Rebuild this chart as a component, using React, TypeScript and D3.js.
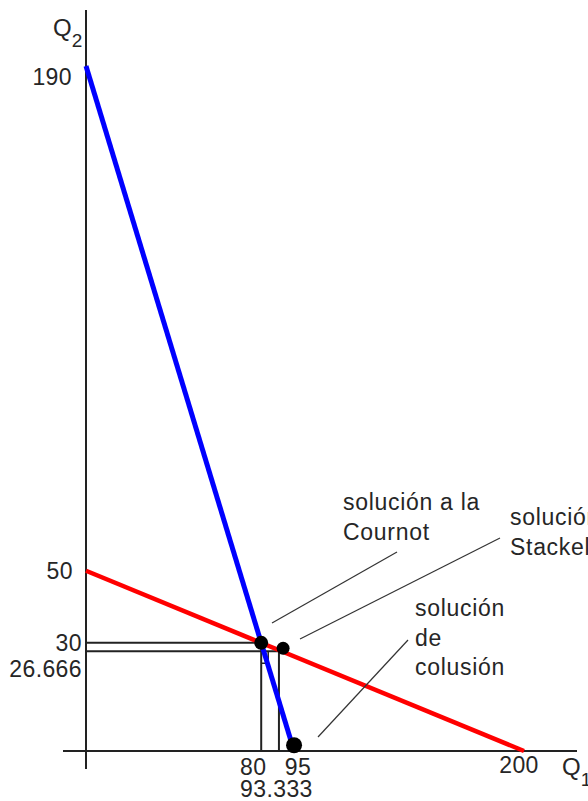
import React from "react";
import * as d3 from "d3";

// Reaction functions (Q1, Q2)
const blueLine: [number, number][] = [[0, 190], [95, 0]];
const redLine: [number, number][] = [[0, 50], [200, 0]];

// Equilibrium points
const cournot = { q1: 80, q2: 30 };
const stackelberg = { q1: 90, q2: 28.5 };
const colusion = { q1: 95, q2: 1.6 };

// Guide lines (drop lines) as drawn
const guideCournot = { q1: 80, q2: 30 };
const guideStack = { q1: 88.1, q2: 27.7 };

// Tick labels
const yTicks = [
  { value: 190, label: "190", dx: -14, dy: 19 },
  { value: 50, label: "50", dx: -13, dy: 8 },
  { value: 30, label: "30", dx: -4, dy: 8 },
  { value: 26.666, label: "26.666", dx: -4, dy: 22 },
];
const xTicks = [
  { value: 80, label: "80", dx: -8, dy: 24 },
  { value: 95, label: "95", dx: 4, dy: 24 },
  { value: 93.333, label: "93.333", dx: -14, dy: 46 },
  { value: 200, label: "200", dx: -5, dy: 22 },
];

// Annotations
const annotations = [
  { lines: ["solución a la", "Cournot"], tx: 343, ty: 510, from: [272, 623], to: [397, 552] },
  { lines: ["solución de", "Stackelberg"], tx: 510, ty: 525, from: [300, 639], to: [500, 538] },
  { lines: ["solución", "de", "colusión"], tx: 415, ty: 616, from: [318, 737], to: [408, 640] },
];

const W = 588;
const H = 801;
const FONT = "'Liberation Sans', Arial, sans-serif";
const TXT = "#262626";

export default function App() {
  const x = d3.scaleLinear().domain([0, 200]).range([86, 524]);
  const y = d3.scaleLinear().domain([0, 190]).range([751, 66]);
  const line = d3
    .line<[number, number]>()
    .x((d) => x(d[0]))
    .y((d) => y(d[1]));

  const x0 = x(0);
  const y0 = y(0);

  return (
    <svg
      width={W}
      height={H}
      style={{ position: "absolute", left: 0, top: 0, background: "#fff" }}
      fontFamily={FONT}
    >
      <rect width={W} height={H} fill="#fff" />
      {/* axes */}
      <line x1={x0} x2={x0} y1={10} y2={769} stroke="#222" strokeWidth={2} />
      <line x1={63} x2={577} y1={y0} y2={y0} stroke="#222" strokeWidth={2} />

      {/* guide lines */}
      <g stroke="#222" strokeWidth={2} fill="none">
        <line x1={x0} x2={x(guideCournot.q1)} y1={y(guideCournot.q2)} y2={y(guideCournot.q2)} />
        <line x1={x(guideCournot.q1)} x2={x(guideCournot.q1)} y1={y(guideCournot.q2)} y2={y0} />
        <line x1={x0} x2={x(guideStack.q1)} y1={y(guideStack.q2)} y2={y(guideStack.q2)} />
        <line x1={x(guideStack.q1)} x2={x(guideStack.q1)} y1={y(guideStack.q2)} y2={y0} />
        <polyline
          points={`${x(guideCournot.q1)},${y(guideStack.q2) + 12} ${x(guideCournot.q1) + 7},${y(guideStack.q2) + 12} ${x(guideCournot.q1) + 7},${y(guideStack.q2)}`}
          strokeWidth={1.5}
        />
      </g>

      {/* reaction lines */}
      <path d={line(redLine) || ""} stroke="#ff0000" strokeWidth={4.5} fill="none" />
      <path d={line(blueLine) || ""} stroke="#0000ff" strokeWidth={5} fill="none" />

      {/* points */}
      <circle cx={x(cournot.q1)} cy={y(cournot.q2)} r={7} fill="#000" />
      <circle cx={x(stackelberg.q1)} cy={y(stackelberg.q2)} r={6.5} fill="#000" />
      <circle cx={x(colusion.q1)} cy={y(colusion.q2)} r={8} fill="#000" />

      {/* y tick labels */}
      {yTicks.map((t) => (
        <text key={t.label} x={x0 + t.dx} y={y(t.value) + t.dy} textAnchor="end" fontSize={23} letterSpacing={0.4} fill={TXT}>
          {t.label}
        </text>
      ))}
      {/* x tick labels */}
      {xTicks.map((t) => (
        <text key={t.label} x={x(t.value) + t.dx} y={y0 + t.dy} textAnchor="middle" fontSize={23} letterSpacing={0.4} fill={TXT}>
          {t.label}
        </text>
      ))}

      {/* axis titles */}
      <text x={53} y={36} fontSize={24} fill={TXT}>
        Q<tspan dy={11} fontSize={19}>2</tspan>
      </text>
      <text x={562} y={775} fontSize={24} fill={TXT}>
        Q<tspan dy={11} fontSize={19}>1</tspan>
      </text>

      {/* annotations */}
      {annotations.map((a, i) => (
        <g key={i}>
          <line x1={a.from[0]} y1={a.from[1]} x2={a.to[0]} y2={a.to[1]} stroke="#333" strokeWidth={1.2} />
          <text fontSize={23} letterSpacing={0.7} fill={TXT}>
            {a.lines.map((l, j) => (
              <tspan key={j} x={a.tx} y={a.ty + j * 29.5}>
                {l}
              </tspan>
            ))}
          </text>
        </g>
      ))}
    </svg>
  );
}
